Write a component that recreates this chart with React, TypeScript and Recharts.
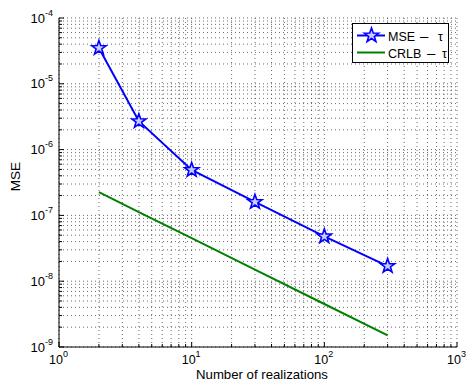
import React from 'react'
import { LineChart, Line, XAxis, YAxis, CartesianGrid, Label } from 'recharts'

// realizations (x) and estimated values
const realizations = [2, 4, 10, 30, 100, 300]
const mseTau = [3.5e-5, 2.7e-6, 4.9e-7, 1.6e-7, 4.8e-8, 1.7e-8]
const crlbTau = [2.25e-7, 1.12e-7, 4.5e-8, 1.5e-8, 4.5e-9, 1.5e-9]

const xDecades = [1, 10, 100, 1000]
const yDecades = [1e-9, 1e-8, 1e-7, 1e-6, 1e-5, 1e-4]

// add 2..9 minor ticks between decades
const withMinors = (decades: number[]) => {
  const out: number[] = []
  decades.forEach((d, i) => {
    out.push(d)
    if (i < decades.length - 1) for (let k = 2; k <= 9; k++) out.push(k * d)
  })
  return out
}
const xTicks = withMinors(xDecades)
const yTicks = withMinors(yDecades)

const data = realizations.map((n, i) => ({ n, mse: mseTau[i], crlb: crlbTau[i] }))

const FONT = '"Liberation Sans", Arial, sans-serif'

const isMajor = (v: number) => {
  const e = Math.round(Math.log10(v))
  return Math.abs(v - Math.pow(10, e)) / v < 1e-6
}

const Pow10 = ({ x, y, v, anchor, size = 13 }: any) => {
  const e = Math.round(Math.log10(v))
  return (
    <text x={x} y={y} textAnchor={anchor} fontFamily={FONT} fontSize={size} fill="#000">
      10<tspan dy={-7} fontSize={9}>{e}</tspan>
    </text>
  )
}

const makeTick = (side: 'bottom' | 'top' | 'left' | 'right') => (props: any) => {
  const { x, y, payload } = props
  const v = payload.value
  const major = isMajor(v)
  const len = major ? 5 : 3
  let line
  if (side === 'bottom') line = <line x1={x} y1={y} x2={x} y2={y - len} stroke="#000" />
  else if (side === 'top') line = <line x1={x} y1={y} x2={x} y2={y + len} stroke="#000" />
  else if (side === 'left') line = <line x1={x} y1={y} x2={x + len} y2={y} stroke="#000" />
  else line = <line x1={x} y1={y} x2={x - len} y2={y} stroke="#000" />
  return (
    <g>
      {line}
      {major && side === 'bottom' && <Pow10 x={x - 0.5} y={y + 16.5} v={v} anchor="middle" size={12.5} />}
      {major && side === 'left' && <Pow10 x={x - 6} y={y + 4.5} v={v} anchor="end" />}
    </g>
  )
}

const Star = (props: any) => {
  const { cx, cy } = props
  if (cx == null || cy == null) return null
  const pts: string[] = []
  for (let i = 0; i < 10; i++) {
    const r = i % 2 === 0 ? 7.5 : 3
    const a = -Math.PI / 2 + (i * Math.PI) / 5
    pts.push(`${cx + r * Math.cos(a)},${cy + r * Math.sin(a)}`)
  }
  return <polygon points={pts.join(' ')} fill="#ccccff" stroke="#0000ff" strokeWidth={1.6} />
}

export default function App() {
  return (
    <div style={{ position: 'absolute', left: 0, top: 0, width: 467, height: 381, background: '#fff' }}>
      <LineChart
        width={467}
        height={381}
        data={data}
        margin={{ top: 18, right: 10, left: 0, bottom: 0 }}
      >
        <CartesianGrid stroke="#444" strokeDasharray="1 3" strokeWidth={0.8} />
        <XAxis
          dataKey="n"
          type="number"
          scale="log"
          domain={[1, 1000]}
          allowDataOverflow
          ticks={xTicks}
          interval={0}
          height={34}
          tickSize={0}
          tickMargin={0}
          tickLine={false}
          axisLine={{ stroke: '#000' }}
          tick={makeTick('bottom')}
        >
          <Label
            content={({ viewBox }: any) => (
              <text
                x={viewBox.x + viewBox.width / 2 + 4}
                y={viewBox.y + 31.5}
                textAnchor="middle"
                fontFamily={FONT}
                fontSize={13.2}
                fill="#000"
              >
                Number of realizations
              </text>
            )}
          />
        </XAxis>
        <XAxis
          xAxisId="t"
          orientation="top"
          type="number"
          scale="log"
          domain={[1, 1000]}
          allowDataOverflow
          ticks={xTicks}
          interval={0}
          height={0}
          tickSize={0}
          tickMargin={0}
          tickLine={false}
          axisLine={{ stroke: '#000' }}
          tick={makeTick('top')}
        />
        <YAxis
          type="number"
          scale="log"
          domain={[1e-9, 1e-4]}
          allowDataOverflow
          ticks={yTicks}
          interval={0}
          width={59}
          tickSize={0}
          tickMargin={0}
          tickLine={false}
          axisLine={{ stroke: '#000' }}
          tick={makeTick('left')}
        >
          <Label
            content={({ viewBox }: any) => {
              const cx = 20
              const cy = viewBox.y + viewBox.height / 2 - 6
              return (
                <text
                  x={cx}
                  y={cy}
                  transform={`rotate(-90 ${cx} ${cy})`}
                  textAnchor="middle"
                  fontFamily={FONT}
                  fontSize={13.5}
                  fill="#000"
                >
                  MSE
                </text>
              )
            }}
          />
        </YAxis>
        <YAxis
          yAxisId="r"
          orientation="right"
          type="number"
          scale="log"
          domain={[1e-9, 1e-4]}
          allowDataOverflow
          ticks={yTicks}
          interval={0}
          width={0}
          tickSize={0}
          tickMargin={0}
          tickLine={false}
          axisLine={{ stroke: '#000' }}
          tick={makeTick('right')}
        />
        <Line
          dataKey="mse"
          stroke="#0000ff"
          strokeWidth={2}
          dot={<Star />}
          isAnimationActive={false}
        />
        <Line
          dataKey="crlb"
          stroke="#008000"
          strokeWidth={2}
          dot={false}
          isAnimationActive={false}
        />
      </LineChart>
      <div
        style={{
          position: 'absolute',
          left: 352,
          top: 23,
          width: 95,
          height: 38,
          border: '1px solid #000',
          background: '#fff',
        }}
      >
        <svg width={95} height={38} style={{ position: 'absolute', left: 0, top: 0 }}>
          <line x1={4} y1={11.5} x2={32} y2={11.5} stroke="#0000ff" strokeWidth={2} />
          <Star cx={18.5} cy={11.5} />
          <line x1={4} y1={28.5} x2={32} y2={28.5} stroke="#008000" strokeWidth={2} />
          <text y={16.5} fontFamily={FONT} fontSize={12.5} fill="#000">
            <tspan x={35}>MSE</tspan>
            <tspan x={67} fontSize={15}>–</tspan>
            <tspan x={85}>τ</tspan>
          </text>
          <text y={33.5} fontFamily={FONT} fontSize={12.5} fill="#000">
            <tspan x={35}>CRLB</tspan>
            <tspan x={74} fontSize={15}>–</tspan>
            <tspan x={89}>τ</tspan>
          </text>
        </svg>
      </div>
    </div>
  )
}
